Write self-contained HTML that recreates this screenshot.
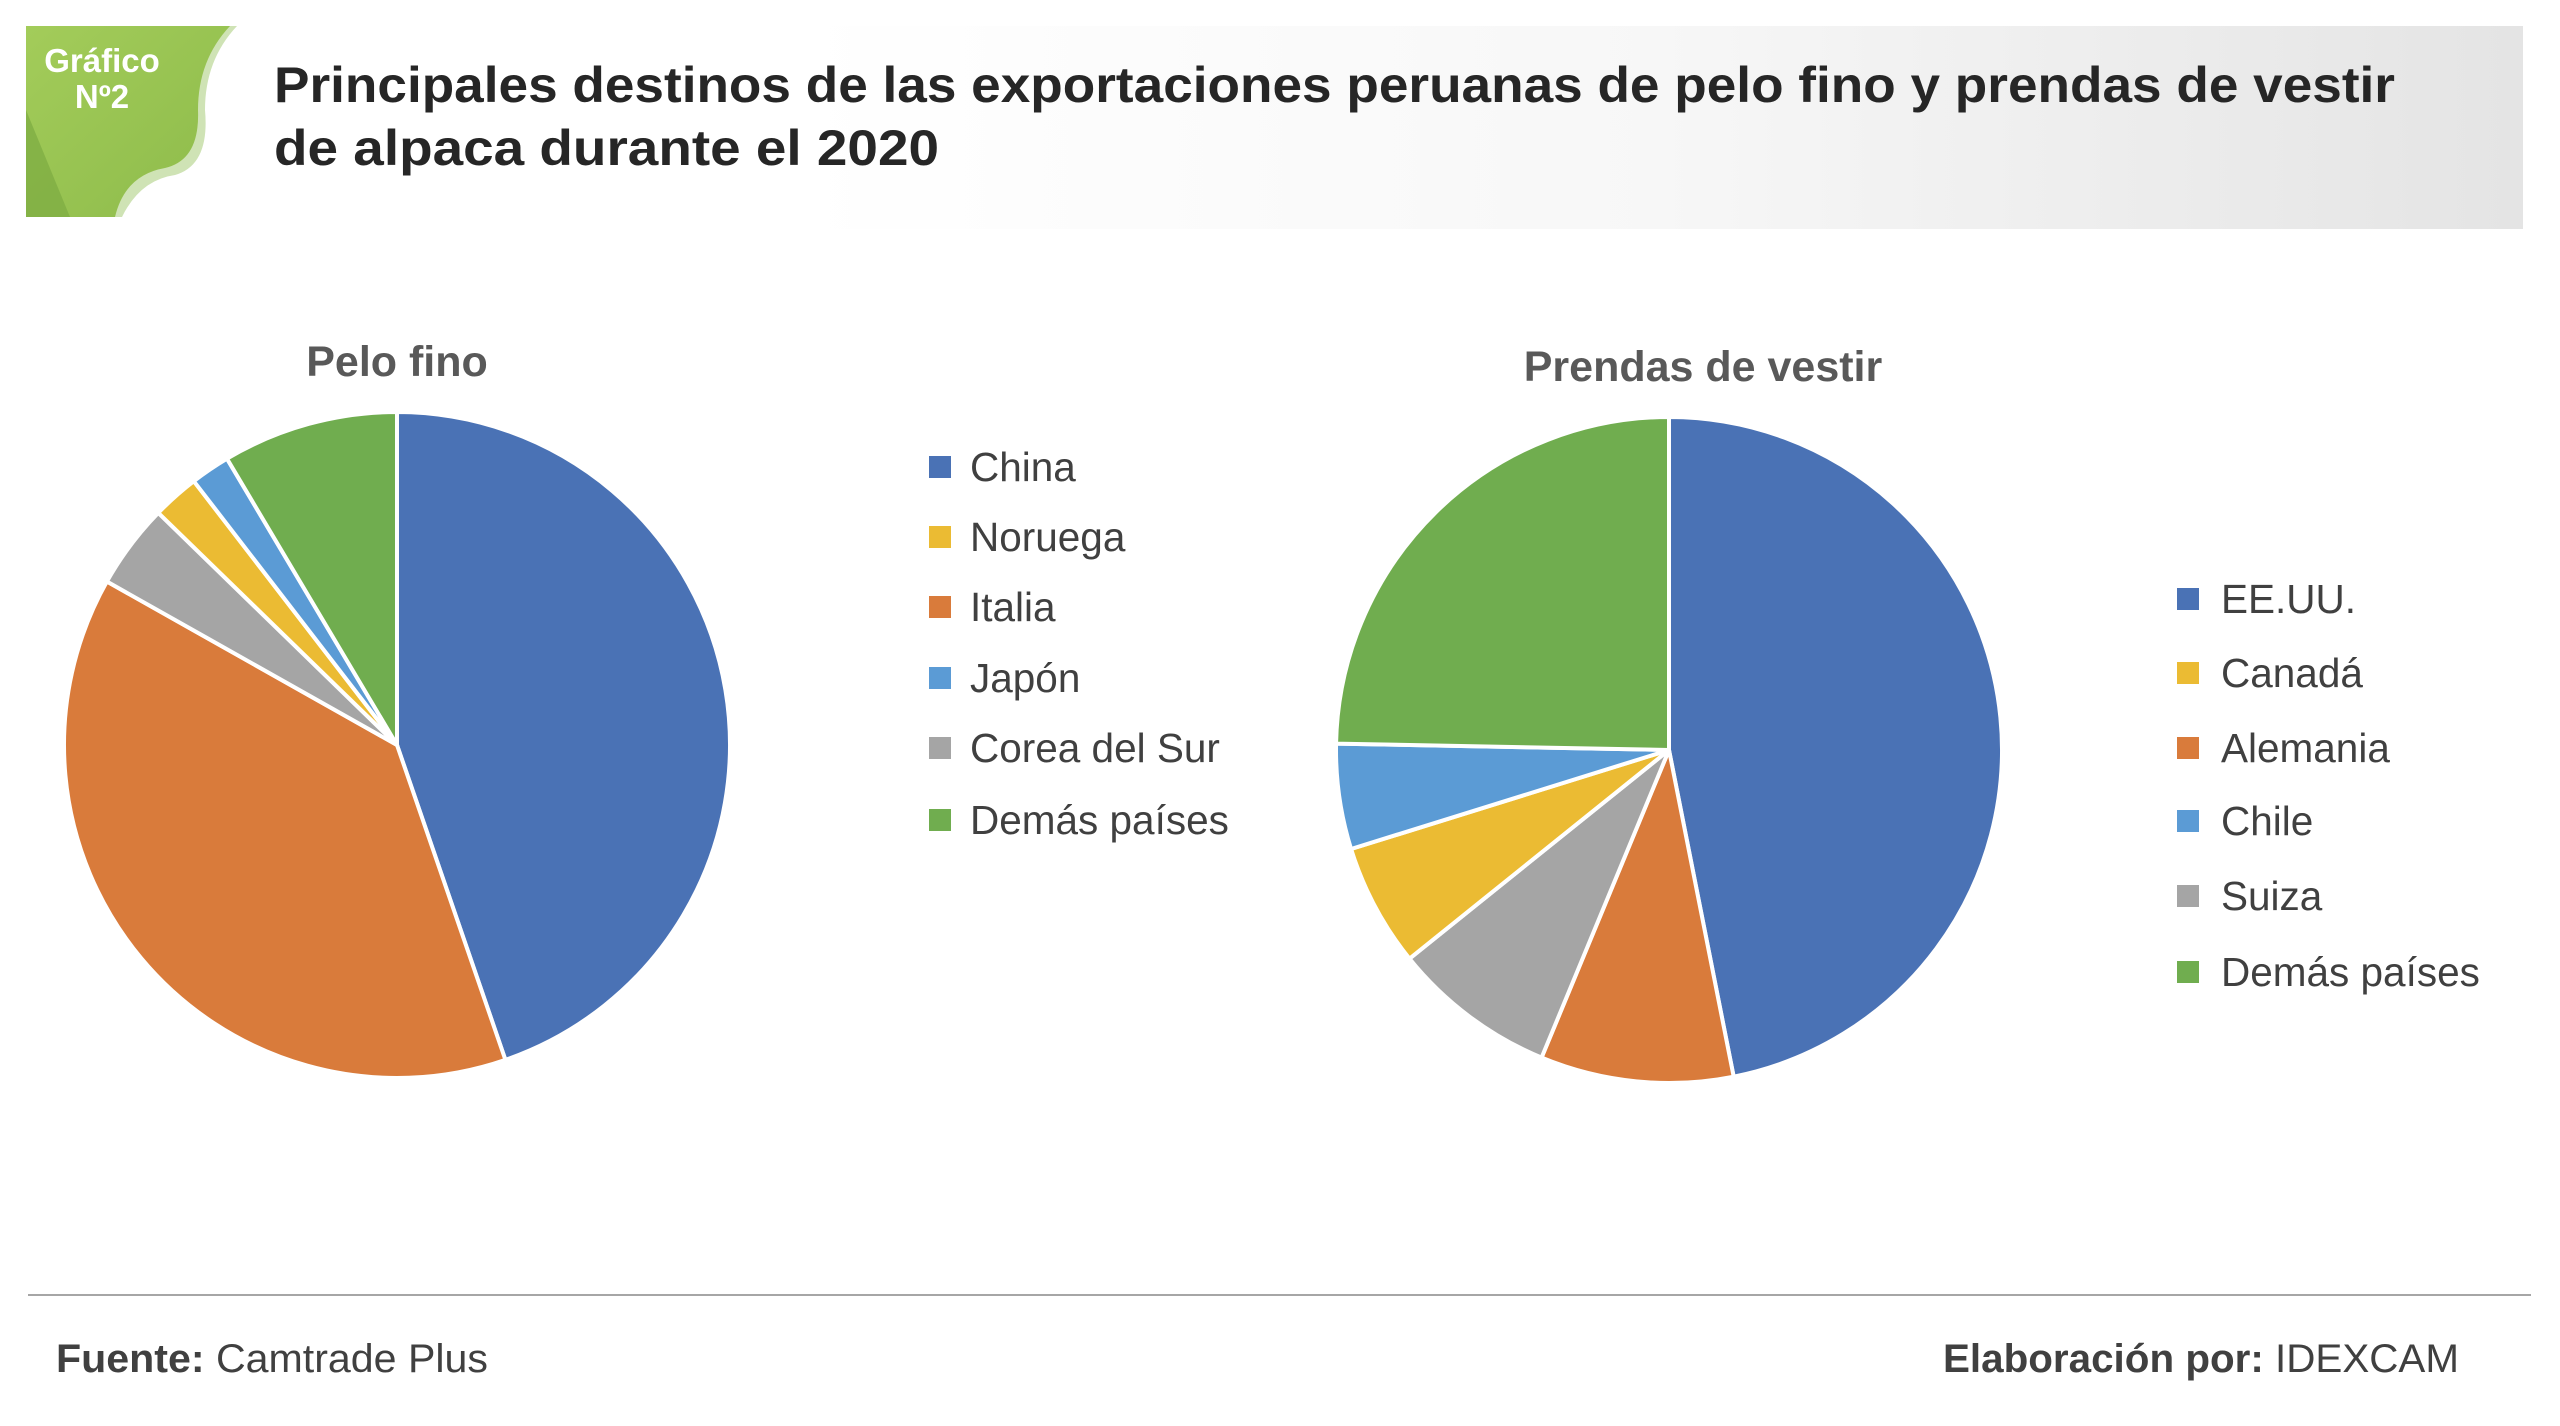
<!DOCTYPE html>
<html><head><meta charset="utf-8"><style>
html,body{margin:0;padding:0;background:#fff;}
svg{display:block;font-family:"Liberation Sans","DejaVu Sans",sans-serif;}
</style></head><body>
<svg id="s" width="2560" height="1426" viewBox="0 0 2560 1426" xmlns="http://www.w3.org/2000/svg">
<defs>
<linearGradient id="bg" x1="0" x2="1" y1="0" y2="0">
<stop offset="0" stop-color="#ffffff"/><stop offset="0.5" stop-color="#f7f7f7"/><stop offset="1" stop-color="#e4e4e4"/></linearGradient>
<linearGradient id="gr" x1="0" x2="1" y1="0" y2="1">
<stop offset="0" stop-color="#a3cc5a"/><stop offset="1" stop-color="#8dbb4a"/></linearGradient>
</defs>
<rect x="800" y="26" width="1723" height="203" fill="url(#bg)"/>
<path d="M26 26 L237 26 Q205 60 205 110 Q210 165 175 175 Q140 180 122 217 L26 217 Z" fill="#cfe3b5"/>
<path d="M26 26 L230 26 Q198 60 198 110 Q200 160 165 168 Q125 175 115 217 L26 217 Z" fill="url(#gr)"/>
<path d="M26 110 L70 217 L26 217 Z" fill="#7fae44" opacity="0.8"/>
<text x="102" y="72" font-size="33" font-weight="bold" fill="#fff" text-anchor="middle">Gráfico</text>
<text x="102" y="108" font-size="33" font-weight="bold" fill="#fff" text-anchor="middle">Nº2</text>
<text x="274" y="102" font-size="50" font-weight="bold" fill="#262626" textLength="2121" lengthAdjust="spacingAndGlyphs">Principales destinos de las exportaciones peruanas de pelo fino y prendas de vestir</text>
<text x="274" y="165" font-size="50" font-weight="bold" fill="#262626" textLength="665" lengthAdjust="spacingAndGlyphs">de alpaca durante el 2020</text>
<text x="397" y="376" font-size="43" font-weight="bold" fill="#595959" text-anchor="middle">Pelo fino</text>
<text x="1703" y="381" font-size="43" font-weight="bold" fill="#595959" text-anchor="middle">Prendas de vestir</text>
<g id="p1"></g><g id="p2"></g>
<g font-size="40.5" fill="#404040">
<rect x="929" y="456" width="22" height="22" fill="#4a72b5"/><text x="970" y="481">China</text>
<rect x="929" y="526" width="22" height="22" fill="#ebbb33"/><text x="970" y="551">Noruega</text>
<rect x="929" y="596" width="22" height="22" fill="#d97b3b"/><text x="970" y="621">Italia</text>
<rect x="929" y="667" width="22" height="22" fill="#5b9bd5"/><text x="970" y="692">Japón</text>
<rect x="929" y="737" width="22" height="22" fill="#a5a5a5"/><text x="970" y="762">Corea del Sur</text>
<rect x="929" y="809" width="22" height="22" fill="#70ad4f"/><text x="970" y="834">Demás países</text>
<rect x="2177" y="588" width="22" height="22" fill="#4a72b5"/><text x="2221" y="613">EE.UU.</text>
<rect x="2177" y="662" width="22" height="22" fill="#ebbb33"/><text x="2221" y="687">Canadá</text>
<rect x="2177" y="737" width="22" height="22" fill="#d97b3b"/><text x="2221" y="762">Alemania</text>
<rect x="2177" y="810" width="22" height="22" fill="#5b9bd5"/><text x="2221" y="835">Chile</text>
<rect x="2177" y="885" width="22" height="22" fill="#a5a5a5"/><text x="2221" y="910">Suiza</text>
<rect x="2177" y="961" width="22" height="22" fill="#70ad4f"/><text x="2221" y="986">Demás países</text>
</g>
<rect x="28" y="1294" width="2503" height="2" fill="#a6a6a6"/>
<text x="56" y="1372" font-size="40" fill="#404040" textLength="432" lengthAdjust="spacingAndGlyphs"><tspan font-weight="bold">Fuente:</tspan> Camtrade Plus</text>
<text x="1943" y="1372" font-size="40" fill="#404040" textLength="516" lengthAdjust="spacingAndGlyphs"><tspan font-weight="bold">Elaboración por:</tspan>  IDEXCAM</text>
</svg>
<script>
function pie(id,cx,cy,r,sl){var g=document.getElementById(id),a=0,h='';
sl.forEach(function(s){var b=s[0],f=function(t){t=t*Math.PI/180;return [cx+r*Math.sin(t),cy-r*Math.cos(t)]};
var p=f(a),q=f(b);h+='<path d="M'+cx+' '+cy+'L'+p[0]+' '+p[1]+'A'+r+' '+r+' 0 '+((b-a)>180?1:0)+' 1 '+q[0]+' '+q[1]+'Z" fill="'+s[1]+'" stroke="#fff" stroke-width="4" stroke-linejoin="round"/>';a=b;});
g.innerHTML=h;}
pie('p1',397,745,333,[[161,'#4a72b5'],[299.4,'#d97b3b'],[314.2,'#a5a5a5'],[322.4,'#ebbb33'],[329.3,'#5b9bd5'],[360,'#70ad4f']]);
pie('p2',1669,750,333,[[168.8,'#4a72b5'],[202.5,'#d97b3b'],[231.2,'#a5a5a5'],[252.7,'#ebbb33'],[271.1,'#5b9bd5'],[360,'#70ad4f']]);
</script>
</body></html>
